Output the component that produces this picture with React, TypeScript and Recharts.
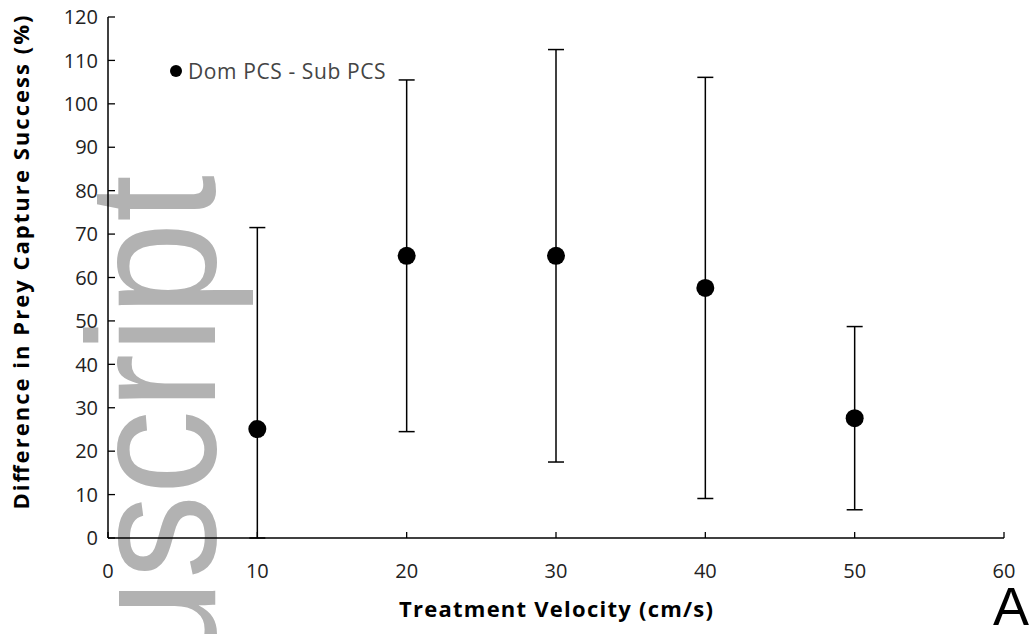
import React from 'react';
import { ScatterChart, Scatter, XAxis, YAxis, ErrorBar, Legend } from 'recharts';

// treatment velocity (cm/s)
const velocities = [10, 20, 30, 40, 50];
// Dom PCS - Sub PCS (%)
const pcsDifference = [25.1, 65.0, 65.0, 57.6, 27.6];
// visible error bar extents below / above each point (first one runs down to the axis)
const pcsErrorLow = [25.1, 40.5, 47.5, 48.5, 21.1];
const pcsErrorHigh = [46.4, 40.5, 47.5, 48.5, 21.1];

const xTicks = [0, 10, 20, 30, 40, 50, 60];
const yTicks = [0, 10, 20, 30, 40, 50, 60, 70, 80, 90, 100, 110, 120];

const seriesName = 'Dom PCS - Sub PCS';
const xTitle = 'Treatment Velocity (cm/s)';
const yTitle = 'Difference in Prey Capture Success (%)';

const data = velocities.map((v, i) => ({
  velocity: v,
  diff: pcsDifference[i],
  err: [pcsErrorLow[i], pcsErrorHigh[i]],
}));

const FONT = '"Open Sans", sans-serif';

const YTick = (props: any) => {
  const { x, y, payload } = props;
  return (
    <g>
      <line x1={x} x2={x + 7} y1={y} y2={y} stroke="#000" strokeWidth={1.3} />
      <text x={x - 10} y={y} dy="0.36em" textAnchor="end" fontSize={20} fill="#222" fontFamily={FONT}>
        {payload.value}
      </text>
    </g>
  );
};

const XTick = (props: any) => {
  const { x, y, payload } = props;
  return (
    <g>
      <line x1={x} x2={x} y1={y} y2={y - 6} stroke="#000" strokeWidth={1.3} />
      <text x={x} y={y + 40} textAnchor="middle" fontSize={20} fill="#222" fontFamily={FONT}>
        {payload.value}
      </text>
    </g>
  );
};

const LegendContent = () => (
  <div style={{ display: 'flex', alignItems: 'center', fontFamily: FONT, fontSize: 21, color: '#444', whiteSpace: 'nowrap' }}>
    <svg width={14} height={14}>
      <circle cx={7} cy={7} r={6} fill="#000" />
    </svg>
    <span style={{ marginLeft: 5, letterSpacing: 0.6 }}>{seriesName}</span>
  </div>
);

const Dot = (props: any) => <circle cx={props.cx} cy={props.cy} r={9} fill="#000" />;

export default function App() {
  return (
    <div style={{ position: 'absolute', left: 0, top: 0, width: 1033, height: 634, background: '#fff', overflow: 'hidden' }}>
      {/* watermark */}
      <svg width={1033} height={634} style={{ position: 'absolute', left: 0, top: 0 }}>
        <text
          transform="translate(215,175) rotate(-90) scale(0.93,1)"
          textAnchor="end"
          fontSize={182}
          fontFamily='"Liberation Sans", Arial, sans-serif'
          fill="#b2b2b2"
        >
          Manuscript
        </text>
      </svg>
      <div style={{ position: 'absolute', left: 0, top: 0 }}>
        <ScatterChart width={1033} height={634} margin={{ top: 17, right: 29, bottom: 16, left: 48 }}>
          <XAxis
            type="number"
            dataKey="velocity"
            domain={[0, 60]}
            ticks={xTicks}
            tickSize={0}
            tickMargin={0}
            tick={<XTick />}
            height={80}
            axisLine={{ stroke: '#000', strokeWidth: 1.5 }}
            tickLine={false}
            label={{
              content: ({ viewBox }: any) => (
                <text
                  x={viewBox.x + viewBox.width / 2}
                  y={viewBox.y + 79}
                  textAnchor="middle"
                  fontSize={22}
                  fontWeight="bold"
                  fill="#000"
                  fontFamily={FONT}
                  textLength={314}
                  lengthAdjust="spacing"
                >
                  {xTitle}
                </text>
              ),
            }}
          />
          <YAxis
            type="number"
            dataKey="diff"
            domain={[0, 120]}
            ticks={yTicks}
            allowDataOverflow
            tickSize={0}
            tickMargin={0}
            tick={<YTick />}
            width={60}
            axisLine={{ stroke: '#000', strokeWidth: 1.5 }}
            tickLine={false}
            label={{
              content: ({ viewBox }: any) => (
                <text
                  transform={`translate(29,${viewBox.y + viewBox.height / 2 - 15}) rotate(-90)`}
                  textAnchor="middle"
                  fontSize={22}
                  fontWeight="bold"
                  fill="#000"
                  fontFamily={FONT}
                  textLength={494}
                  lengthAdjust="spacing"
                >
                  {yTitle}
                </text>
              ),
            }}
          />
          <Legend
            layout="horizontal"
            verticalAlign="middle"
            content={<LegendContent />}
            wrapperStyle={{ position: 'absolute', left: 169, top: 57, width: 'auto', height: 'auto' }}
          />
          <Scatter name={seriesName} data={data} fill="#000" shape={<Dot />} isAnimationActive={false}>
            <ErrorBar dataKey="err" direction="y" width={8} stroke="#000" strokeWidth={1.5} />
          </Scatter>
        </ScatterChart>
      </div>
      <svg width={1033} height={634} style={{ position: 'absolute', left: 0, top: 0, pointerEvents: 'none' }}>
        <text x={993} y={625} fontSize={54} fontFamily='"Liberation Sans", Arial, sans-serif' fill="#000">
          A
        </text>
      </svg>
    </div>
  );
}
